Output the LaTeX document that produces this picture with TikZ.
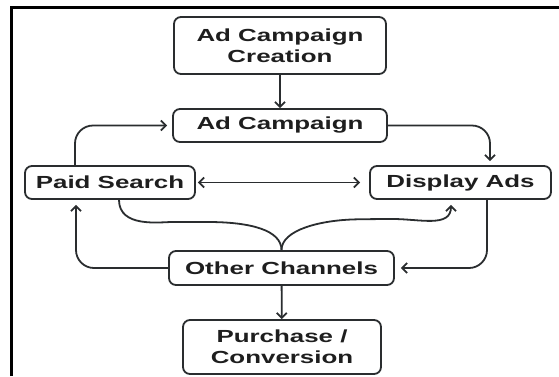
\documentclass[tikz,border=0pt]{standalone}
\usepackage{fontspec}
\newfontfamily\boxfont{Liberation Sans}[FakeStretch=1.48]
\usetikzlibrary{arrows.meta}
\definecolor{boxline}{HTML}{2A2D2F}
\definecolor{textcol}{HTML}{1E1E1E}

\begin{document}
\begin{tikzpicture}[x=1pt, y=-1pt,
        >={Straight Barb[length=5pt,width=10pt]},
        box/.style={draw=boxline, line width=1.8pt, rounded corners=7pt, text=textcol,
            font=\boxfont\bfseries\fontsize{17.5}{21}\selectfont, align=center},
        arr/.style={draw=boxline, line width=1.8pt, rounded corners=18pt}]
        \useasboundingbox (0,0) rectangle (559,376);
        \draw [line width=2.2pt] (11.5,376) -- (11.5,7.5) -- (559,7.5);

        \node[box, minimum width=212, minimum height=57] (create)   at (280,45.5)  {Ad Campaign\\Creation};
        \node[box, minimum width=214, minimum height=33] (campaign) at (280,125.5) {Ad Campaign};
        \node[box, minimum width=170, minimum height=33] (paid)     at (110,182.5) {Paid Search};
        \node[box, minimum width=181, minimum height=33] (display)  at (460.5,182.5) {Display Ads};
        \node[box, minimum width=225, minimum height=34] (other)    at (281.5,268) {Other Channels};
        \node[box, minimum width=198, minimum height=54] (purchase) at (282,347)   {Purchase /\\Conversion};

        \draw [arr, ->] (create) -- (campaign);
        \draw [arr, <->, shorten <=2pt, shorten >=9pt] (paid) -- (display);
        \draw [arr, ->, shorten >=5pt] ([xshift=-35pt]paid.north) |- (campaign.west);
        \draw [arr, ->, shorten >=4pt] (campaign.east) -| ([xshift=29.5pt]display.north);
        \draw [arr, ->, shorten >=5pt] (other.west) -| ([xshift=-34pt]paid.south);
        \draw [arr, ->, shorten >=6pt] ([xshift=26.5pt]display.south) |- (other.east);
        \draw [arr, ->] (other) -- (purchase);

        % the two curves meeting on top of other channels
        \draw [arr] ([xshift=9pt]paid.south) .. controls +(0,28) and +(-30,0) .. (190,222)
            .. controls (250,222) and (281.5,230) .. (other.north);
        \draw [arr, ->, shorten >=5pt] (other.north) .. controls (281.5,230) and (320,220) .. (375,219)
            .. controls +(45,0) and +(0,28) .. ([xshift=-9.5pt]display.south);
    \end{tikzpicture}
\end{document}
